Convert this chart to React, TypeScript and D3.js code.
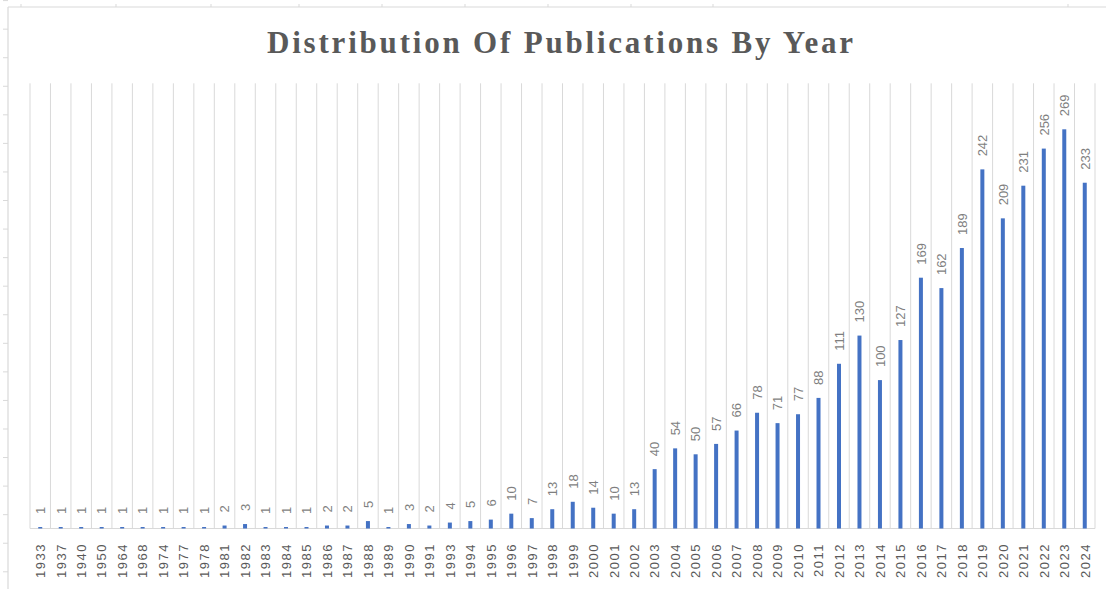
import React from "react";
import * as d3 from "d3";

const years = [
  "1933","1937","1940","1950","1964","1968","1974","1977","1978","1981",
  "1982","1983","1984","1985","1986","1987","1988","1989","1990","1991",
  "1993","1994","1995","1996","1997","1998","1999","2000","2001","2002",
  "2003","2004","2005","2006","2007","2008","2009","2010","2011","2012",
  "2013","2014","2015","2016","2017","2018","2019","2020","2021","2022",
  "2023","2024"
];
const counts = [
  1,1,1,1,1,1,1,1,1,2,
  3,1,1,1,2,2,5,1,3,2,
  4,5,6,10,7,13,18,14,10,13,
  40,54,50,57,66,78,71,77,88,111,
  130,100,127,169,162,189,242,209,231,256,
  269,233
];
const titleText = "Distribution Of Publications By Year";
const yMax = 300;

const W = 1106, H = 589;
const sheetRowTicks = d3.range(0, 21).map((k) => 0.6 + 28.56 * k);
const sheetColTicks = [21, 116, 211, 299, 382, 465, 548, 631, 713, 1068];

export default function App() {
  const x = d3.scaleBand<string>().domain(years).range([30, 1095]).padding(0);
  const y = d3.scaleLinear().domain([0, yMax]).range([528.5, 83.3]);
  const grid = "#d9d9d9";
  const barW = 4;
  const bounds = years.map((yr) => x(yr) as number).concat([1095]);
  return (
    <div style={{ position: "fixed", left: 0, top: 0 }}>
      <svg width={W} height={H} style={{ display: "block", background: "#fff" }}>
        {/* sheet frame */}
        <line x1={8} x2={8} y1={7} y2={H} stroke={grid} strokeWidth={1.2} />
        <line x1={8} x2={W} y1={7} y2={7} stroke={grid} strokeWidth={1.2} />
        {sheetRowTicks.map((t, i) => (
          <line key={"r" + i} x1={3} x2={8} y1={t} y2={t} stroke={grid} strokeWidth={1} />
        ))}
        {sheetColTicks.map((t, i) => (
          <line key={"c" + i} x1={t} x2={t} y1={4} y2={7} stroke={grid} strokeWidth={1} />
        ))}
        {/* title */}
        <text
          x={560}
          y={52.7}
          textAnchor="middle"
          fontFamily="'Liberation Serif', 'Times New Roman', serif"
          fontWeight="bold"
          fontSize={31}
          fill="#595959"
          textLength={586}
          lengthAdjust="spacing"
        >
          {titleText}
        </text>
        {/* vertical gridlines */}
        {bounds.map((bx, i) => (
          <line key={"g" + i} x1={bx} x2={bx} y1={83.3} y2={y(0)} stroke={grid} strokeWidth={1} />
        ))}
        {/* axis line */}
        <line x1={30} x2={1095} y1={y(0)} y2={y(0)} stroke={grid} strokeWidth={1} />
        {/* bars */}
        {years.map((yr, i) => {
          const cx = (x(yr) as number) + x.bandwidth() / 2;
          return (
            <rect
              key={"b" + yr}
              x={cx - barW / 2}
              y={y(counts[i])}
              width={barW}
              height={y(0) - y(counts[i])}
              fill="#4472C4"
            />
          );
        })}
        {/* data labels */}
        {years.map((yr, i) => {
          const cx = (x(yr) as number) + x.bandwidth() / 2;
          const ty = y(counts[i]) - 13;
          return (
            <text
              key={"l" + yr}
              transform={`translate(${cx + 4.8},${ty}) rotate(-90)`}
              fontFamily="'Liberation Sans', Arial, sans-serif"
              fontSize={13}
              fill="#7f7f7f"
              textAnchor="start"
            >
              {counts[i]}
            </text>
          );
        })}
        {/* x tick labels */}
        {years.map((yr) => {
          const cx = (x(yr) as number) + x.bandwidth() / 2;
          return (
            <text
              key={"t" + yr}
              transform={`translate(${cx + 4.8},${543}) rotate(-90)`}
              fontFamily="'Liberation Sans', Arial, sans-serif"
              fontSize={13}
              letterSpacing={1.5}
              fill="#595959"
              textAnchor="end"
            >
              {yr}
            </text>
          );
        })}
      </svg>
    </div>
  );
}
